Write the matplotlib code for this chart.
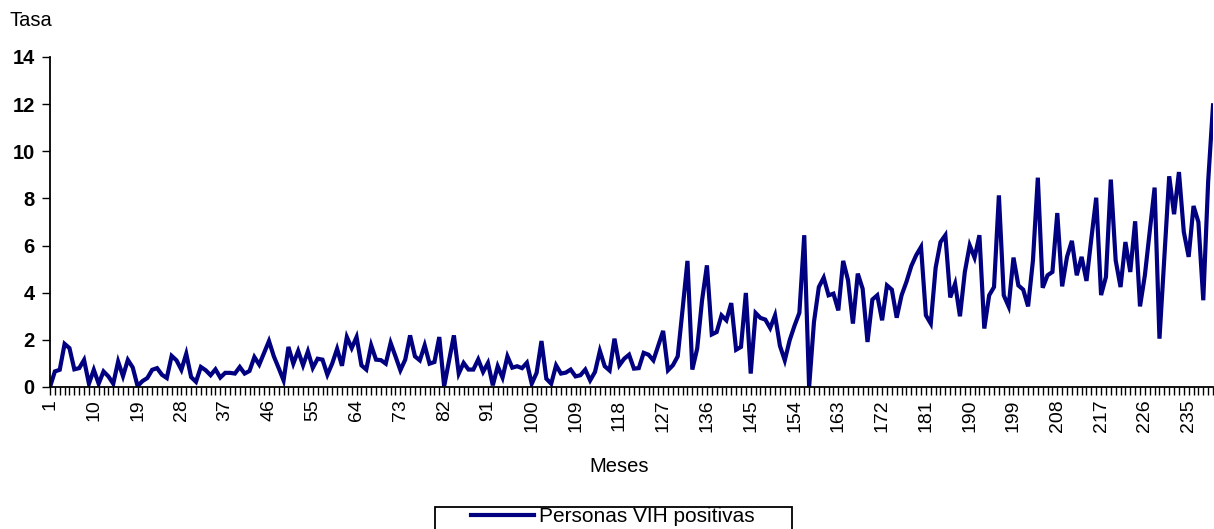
import matplotlib
matplotlib.use('Agg')
import matplotlib.pyplot as plt
from matplotlib.patches import Rectangle

# --- datos: tasa mensual de personas VIH positivas ---
meses = list(range(1, 241))
tasa = [
    0.00, 0.66, 0.73, 1.83, 1.65, 0.75, 0.80, 1.15, 0.14, 0.73,
    0.14, 0.66, 0.45, 0.14, 1.08, 0.46, 1.15, 0.83, 0.04, 0.25,
    0.38, 0.73, 0.80, 0.52, 0.38, 1.32, 1.13, 0.73, 1.41, 0.42,
    0.22, 0.85, 0.71, 0.50, 0.75, 0.40, 0.60, 0.60, 0.57, 0.85,
    0.57, 0.68, 1.27, 0.95, 1.45, 1.95, 1.30, 0.80, 0.28, 1.70,
    0.99, 1.53, 0.92, 1.51, 0.81, 1.20, 1.16, 0.52, 1.00, 1.62,
    0.90, 2.12, 1.65, 2.12, 0.92, 0.74, 1.77, 1.16, 1.14, 0.99,
    1.87, 1.30, 0.71, 1.16, 2.19, 1.30, 1.13, 1.77, 0.99, 1.06,
    2.12, 0.03, 1.10, 2.19, 0.57, 1.02, 0.74, 0.74, 1.17, 0.64,
    1.02, 0.07, 0.88, 0.40, 1.30, 0.82, 0.88, 0.80, 1.03, 0.14,
    0.60, 1.95, 0.35, 0.14, 0.92, 0.57, 0.61, 0.74, 0.45, 0.50,
    0.74, 0.28, 0.64, 1.53, 0.88, 0.70, 2.05, 0.92, 1.20, 1.37,
    0.78, 0.80, 1.45, 1.37, 1.13, 1.75, 2.38, 0.71, 0.92, 1.30,
    3.30, 5.35, 0.74, 1.63, 3.68, 5.16, 2.23, 2.33, 3.04, 2.83,
    3.56, 1.58, 1.70, 3.99, 0.57, 3.14, 2.93, 2.86, 2.50, 3.04,
    1.75, 1.13, 1.98, 2.60, 3.15, 6.44, 0.00, 2.76, 4.24, 4.64,
    3.89, 3.96, 3.25, 5.35, 4.53, 2.69, 4.81, 4.17, 1.91, 3.71,
    3.89, 2.83, 4.31, 4.13, 2.94, 3.89, 4.46, 5.13, 5.59, 5.94,
    3.04, 2.69, 5.06, 6.15, 6.44, 3.80, 4.38, 3.00, 4.88, 6.01,
    5.49, 6.44, 2.48, 3.89, 4.24, 8.13, 3.89, 3.42, 5.49, 4.31,
    4.13, 3.42, 5.37, 8.88, 4.21, 4.74, 4.88, 7.38, 4.27, 5.52,
    6.20, 4.74, 5.52, 4.50, 6.30, 8.03, 3.90, 4.67, 8.80, 5.37,
    4.24, 6.15, 4.88, 7.03, 3.42, 4.74, 6.60, 8.46, 2.05, 5.52,
    8.94, 7.33, 9.12, 6.58, 5.52, 7.68, 7.00, 3.68, 8.70, 11.95,
]
etiquetas_x = ['1', '10', '19', '28', '37', '46', '55', '64', '73', '82',
               '91', '100', '109', '118', '127', '136', '145', '154', '163',
               '172', '181', '190', '199', '208', '217', '226', '235']
ticks_y = [0, 2, 4, 6, 8, 10, 12, 14]

plt.rcParams['font.family'] = ['Liberation Sans', 'DejaVu Sans']

fig = plt.figure(figsize=(12.14, 5.29), dpi=100)
ax = fig.add_axes([50 / 1214, 1 - 387 / 529, 1163 / 1214, 330 / 529])

linea, = ax.plot(meses, tasa, color='#000080', linewidth=3.0,
                 solid_joinstyle='miter', label='Personas VIH positivas')

ax.set_xlim(1, 240)
ax.set_ylim(0, 14)

# ticks: uno por mes, etiqueta cada 9 meses
labels_todos = [''] * len(meses)
for lab in etiquetas_x:
    labels_todos[int(lab) - 1] = lab
ax.set_xticks(meses)
ax.set_xticklabels(labels_todos, rotation=90, fontsize=14)
ax.set_yticks(ticks_y)
ax.set_yticklabels([str(v) for v in ticks_y], fontsize=14.5, fontweight='bold')
ax.tick_params(axis='both', direction='out', length=6, width=1, color='black')
ax.tick_params(axis='x', pad=3)
ax.tick_params(axis='y', pad=5)

for s in ['top', 'right']:
    ax.spines[s].set_visible(False)
for s in ['left', 'bottom']:
    ax.spines[s].set_linewidth(1.3)
    ax.spines[s].set_color('black')

fig.text(10 / 1214, 1 - 21 / 529, 'Tasa', fontsize=14.5, va='center', ha='left')
fig.text(619 / 1214, 1 - 467 / 529, 'Meses', fontsize=14.5, va='center', ha='center')

# leyenda abajo con recuadro
fig.patches.append(Rectangle((435 / 1214, -0.05), 357 / 1214, 0.05 + 1 - 507 / 529,
                             transform=fig.transFigure, fill=False,
                             edgecolor='black', linewidth=1.3))
fig.legend(handles=[linea], loc='center', bbox_to_anchor=(613 / 1214, 1 - 517 / 529),
           frameon=False, fontsize=15, handlelength=3.0, handletextpad=0.25)

plt.savefig('out.png', dpi=100)
